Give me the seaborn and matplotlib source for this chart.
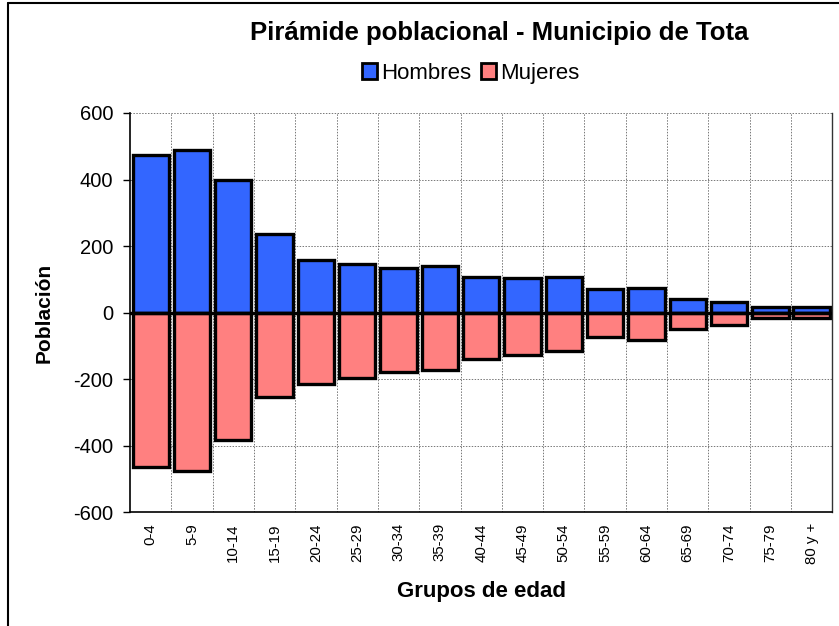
import pandas as pd
import seaborn as sns
import matplotlib.pyplot as plt
from matplotlib.lines import Line2D
from matplotlib.patches import Patch

# --- datos ---
grupos = ['0-4', '5-9', '10-14', '15-19', '20-24', '25-29', '30-34', '35-39',
          '40-44', '45-49', '50-54', '55-59', '60-64', '65-69', '70-74', '75-79', '80 y +']
hombres = [473, 488, 400, 235, 159, 145, 135, 140, 108, 104, 106, 70, 73, 40, 32, 17, 17]
mujeres = [-463, -476, -383, -253, -215, -196, -178, -174, -140, -127, -117, -74, -83, -49, -36, -16, -17]

df = pd.DataFrame({
    'Grupo': grupos * 2,
    'Sexo': ['Hombres'] * len(grupos) + ['Mujeres'] * len(grupos),
    'Poblacion': hombres + mujeres,
})

colores = {'Hombres': '#3366FF', 'Mujeres': '#FF8080'}

sns.set_theme(style='white')
plt.rcParams['font.family'] = ['Liberation Sans', 'DejaVu Sans']
plt.rcParams['axes.unicode_minus'] = False
plt.rcParams['text.color'] = 'black'
plt.rcParams['axes.labelcolor'] = 'black'
plt.rcParams['xtick.color'] = 'black'
plt.rcParams['ytick.color'] = 'black'

fig = plt.figure(figsize=(8.39, 6.26), dpi=100)
ax = fig.add_axes([0.155, 0.182, 0.837, 0.6375])

sns.barplot(data=df, x='Grupo', y='Poblacion', hue='Sexo', dodge=False,
            palette=colores, saturation=1, edgecolor='black', linewidth=2.4,
            width=0.88, legend=False, ax=ax)

ax.set_ylim(-600, 600)
ax.set_xlim(-0.5, len(grupos) - 0.5)
ax.set_yticks(range(-600, 601, 200))
ax.set_xticks([i + 0.5 for i in range(len(grupos) - 1)], minor=True)
ax.grid(True, which='minor', axis='x', color='#777777', linestyle=(0, (1.5, 1.5)), linewidth=0.7)
ax.grid(True, which='major', axis='y', color='#777777', linestyle=(0, (1.5, 1.5)), linewidth=0.7)
ax.set_axisbelow(True)
ax.axhline(0, color='black', linewidth=2.4, zorder=3)

ax.tick_params(axis='y', which='major', length=5, width=1, color='black',
               direction='out', labelsize=14.5, left=True, pad=7)
ax.tick_params(axis='x', which='major', length=0, labelsize=10.8, rotation=90, pad=8)
ax.tick_params(axis='x', which='minor', length=0)

for s in ['left', 'bottom']:
    ax.spines[s].set_color('black')
    ax.spines[s].set_linewidth(1.2)
ax.spines['right'].set_color('#333333')
ax.spines['right'].set_linewidth(1)
ax.spines['top'].set_visible(False)

ax.set_xlabel('Grupos de edad', fontsize=16, fontweight='bold', labelpad=12)
ax.set_ylabel('Población', fontsize=15, fontweight='bold', labelpad=14)

fig.text(0.595, 0.947, 'Pirámide poblacional - Municipio de Tota',
         ha='center', va='center', fontsize=18.5, fontweight='bold')

handles = [Patch(facecolor=colores[k], edgecolor='black', linewidth=2, label=k)
           for k in ['Hombres', 'Mujeres']]
fig.legend(handles=handles, loc='center', bbox_to_anchor=(0.561, 0.883), ncol=2,
           frameon=False, fontsize=16, handlelength=0.7, handleheight=0.7,
           handletextpad=0.2, columnspacing=0.4, borderaxespad=0)

# marco de la figura (solo izquierda y arriba visibles)
fig.add_artist(Line2D([0.0095, 0.0095], [0, 0.995], color='black', linewidth=1.5,
                      transform=fig.transFigure))
fig.add_artist(Line2D([0.0095, 1], [0.995, 0.995], color='black', linewidth=1.5,
                      transform=fig.transFigure))

fig.savefig('out.png', dpi=100, facecolor='white')
